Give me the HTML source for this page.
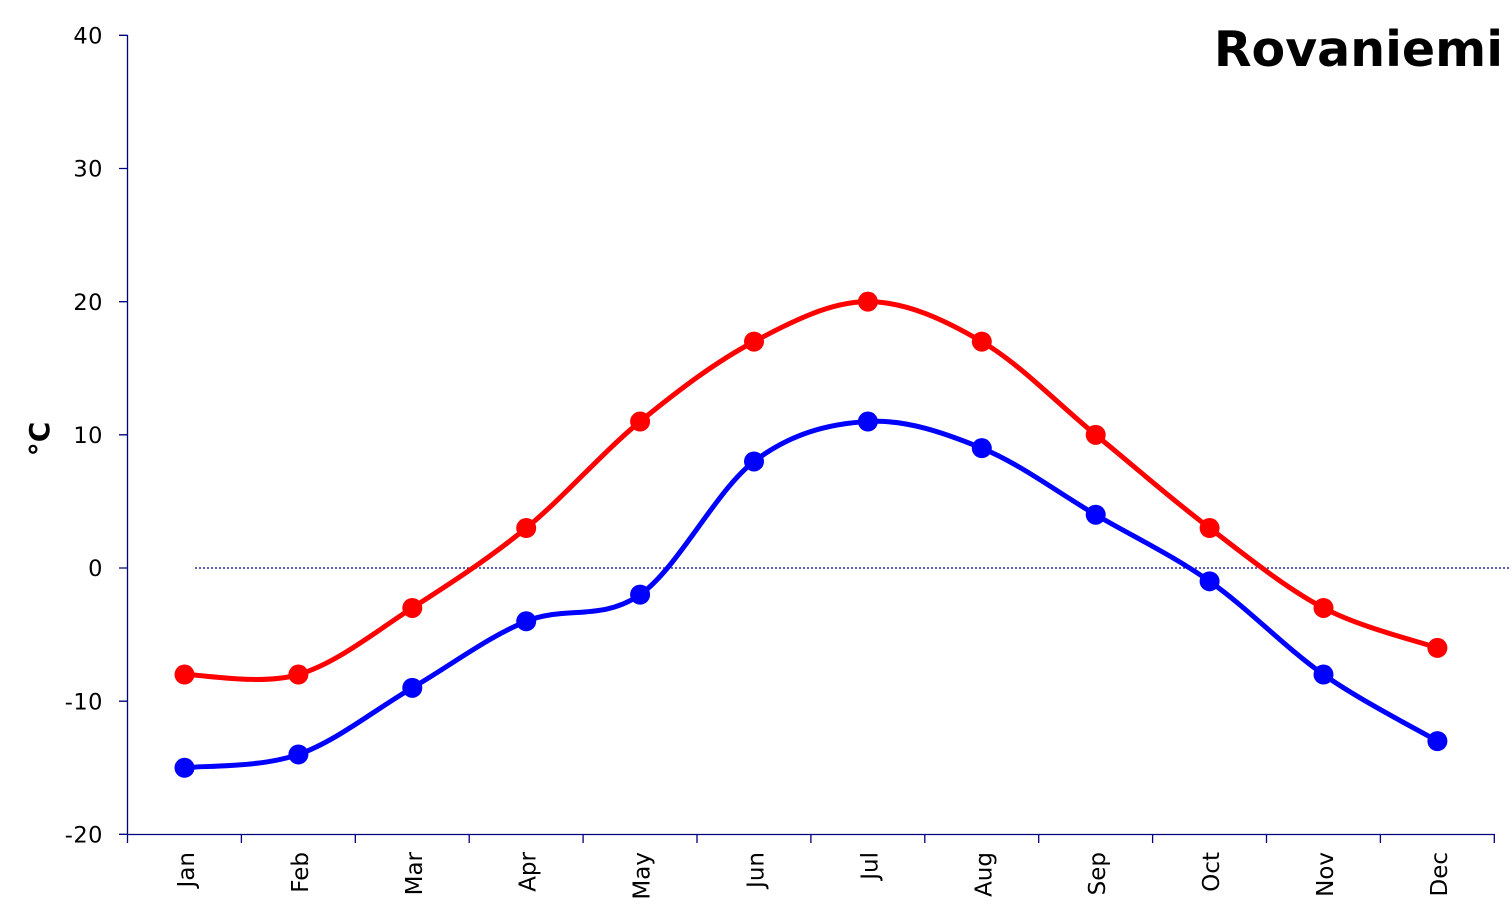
<!DOCTYPE html>
<html><head><meta charset="utf-8"><style>
html,body{margin:0;padding:0;background:#fff}
svg{display:block;font-family:"DejaVu Sans","Liberation Sans",sans-serif}
</style></head><body>
<svg width="1510" height="921" viewBox="0 0 1510 921" xmlns="http://www.w3.org/2000/svg">
<rect width="1510" height="921" fill="#fff"/>
<text x="1503" y="66" text-anchor="end" font-size="49" font-weight="bold">Rovaniemi</text>
<text transform="translate(49,439) rotate(-90)" text-anchor="middle" font-size="28" font-weight="bold">°C</text>
<line x1="195" y1="568" x2="1510" y2="568" stroke="#000080" stroke-width="1.3" stroke-dasharray="2,2"/>
<path d="M127.5,35V834.5H1495M119,35.3H127.5M119,168.5H127.5M119,301.7H127.5M119,434.8H127.5M119,568H127.5M119,701.2H127.5M119,834.3H127.5M127.5,834.5V843M241.4,834.5V843M355.3,834.5V843M469.2,834.5V843M583.1,834.5V843M697,834.5V843M810.9,834.5V843M924.8,834.5V843M1038.7,834.5V843M1152.6,834.5V843M1266.5,834.5V843M1380.4,834.5V843M1494.3,834.5V843" stroke="#000080" stroke-width="1.3" fill="none"/>
<g font-size="22.5" letter-spacing="0.5" text-anchor="end" fill="#000">
<text x="103" y="43.5">40</text>
<text x="103" y="176.7">30</text>
<text x="103" y="309.9">20</text>
<text x="103" y="443">10</text>
<text x="103" y="576.2">0</text>
<text x="103" y="709.4">-10</text>
<text x="103" y="842.5">-20</text>
</g>
<g font-size="23" text-anchor="end" fill="#000">
<text transform="translate(194,852) rotate(-90)">Jan</text>
<text transform="translate(307.9,852) rotate(-90)">Feb</text>
<text transform="translate(421.8,852) rotate(-90)">Mar</text>
<text transform="translate(535.7,852) rotate(-90)">Apr</text>
<text transform="translate(649.6,852) rotate(-90)">May</text>
<text transform="translate(763.5,852) rotate(-90)">Jun</text>
<text transform="translate(877.4,852) rotate(-90)">Jul</text>
<text transform="translate(991.3,852) rotate(-90)">Aug</text>
<text transform="translate(1105.2,852) rotate(-90)">Sep</text>
<text transform="translate(1219.1,852) rotate(-90)">Oct</text>
<text transform="translate(1333,852) rotate(-90)">Nov</text>
<text transform="translate(1446.9,852) rotate(-90)">Dec</text>
</g>
<path fill="none" stroke="#0000ff" stroke-width="5" d="M184.5,767.76
C203.48,765.54 260.43,767.76 298.4,754.44
C336.37,741.12 374.33,710.05 412.3,687.85
C450.27,665.65 488.23,636.81 526.2,621.27
C564.17,605.73 602.13,621.27 640.1,594.63
C678.07,567.99 716.03,490.31 754.0,461.46
C791.97,432.61 829.93,423.73 867.9,421.51
C905.87,419.29 943.83,432.61 981.8,448.15
C1019.77,463.69 1057.73,492.53 1095.7,514.73
C1133.67,536.93 1171.63,554.68 1209.6,581.32
C1247.57,607.96 1285.53,647.91 1323.5,674.54
C1361.47,701.17 1418.42,730.02 1437.4,741.12"/>
<g fill="#0000ff">
<circle cx="184.5" cy="767.76" r="10"/><circle cx="298.4" cy="754.44" r="10"/><circle cx="412.3" cy="687.85" r="10"/><circle cx="526.2" cy="621.27" r="10"/><circle cx="640.1" cy="594.63" r="10"/><circle cx="754" cy="461.46" r="10"/><circle cx="867.9" cy="421.51" r="10"/><circle cx="981.8" cy="448.15" r="10"/><circle cx="1095.7" cy="514.73" r="10"/><circle cx="1209.6" cy="581.32" r="10"/><circle cx="1323.5" cy="674.54" r="10"/><circle cx="1437.4" cy="741.12" r="10"/>
</g>
<path fill="none" stroke="#ff0000" stroke-width="5" d="M184.5,674.54
C203.48,674.54 260.43,685.64 298.4,674.54
C336.37,663.44 374.33,632.37 412.3,607.95
C450.27,583.53 488.23,559.12 526.2,528.05
C564.17,496.98 602.13,452.58 640.1,421.51
C678.07,390.44 716.03,361.59 754.0,341.61
C791.97,321.63 829.93,301.66 867.9,301.66
C905.87,301.66 943.83,319.41 981.8,341.61
C1019.77,363.81 1057.73,403.76 1095.7,434.83
C1133.67,465.90 1171.63,499.20 1209.6,528.05
C1247.57,556.90 1285.53,587.97 1323.5,607.95
C1361.47,627.93 1418.42,641.24 1437.4,647.9"/>
<g fill="#ff0000">
<circle cx="184.5" cy="674.54" r="10"/><circle cx="298.4" cy="674.54" r="10"/><circle cx="412.3" cy="607.95" r="10"/><circle cx="526.2" cy="528.05" r="10"/><circle cx="640.1" cy="421.51" r="10"/><circle cx="754" cy="341.61" r="10"/><circle cx="867.9" cy="301.66" r="10"/><circle cx="981.8" cy="341.61" r="10"/><circle cx="1095.7" cy="434.83" r="10"/><circle cx="1209.6" cy="528.05" r="10"/><circle cx="1323.5" cy="607.95" r="10"/><circle cx="1437.4" cy="647.9" r="10"/>
</g>
</svg>
</body></html>
